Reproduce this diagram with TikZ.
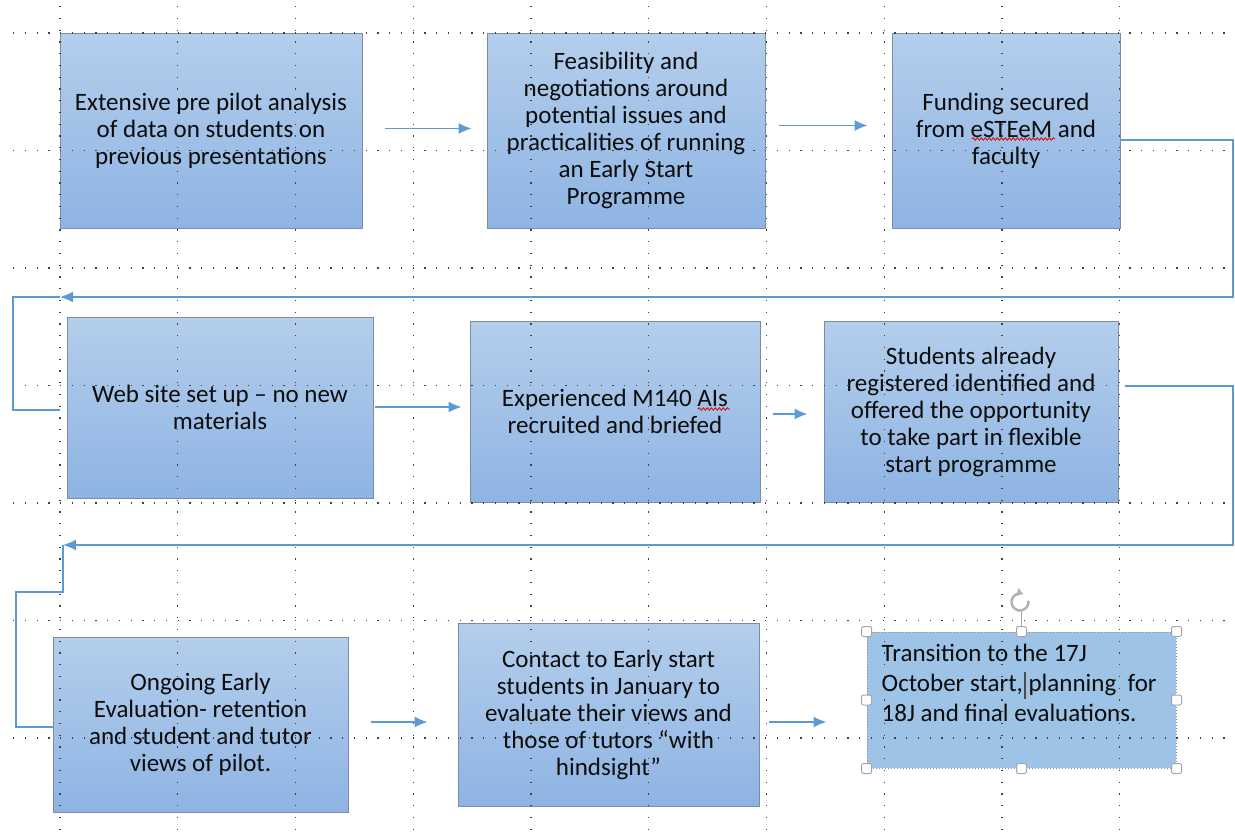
\documentclass[tikz,border=0pt]{standalone}
\usepackage{fontspec}
\setmainfont{Carlito}
\usetikzlibrary{arrows.meta,positioning,calc,decorations.pathmorphing}
\definecolor{boxtop}{HTML}{B4CEEC}
\definecolor{boxbot}{HTML}{8EB4E3}
\definecolor{boxline}{HTML}{7D8CA2}
\definecolor{flowblue}{HTML}{5B9BD5}
\definecolor{selfill}{HTML}{9DC3E6}
\tikzset{
  stage/.style={draw=boxline, line width=0.9pt, top color=boxtop, bottom color=boxbot,
    inner sep=0pt, align=center, text=black!95, font=\fontsize{25}{27}\selectfont},
  flow/.style={draw=flowblue, line width=1.5pt, -{Latex[length=13pt,width=11pt]}},
  flowline/.style={draw=flowblue, line width=1.5pt},
  guide/.style={black!75, line width=1.3pt, dash pattern=on 1.3pt off 10.45pt},
  grip/.style={draw=black!35, fill=white, line width=1pt, rounded corners=2pt,
    minimum size=10pt, inner sep=0pt},
  spell/.style={red!85!black, line width=0.8pt,
    decorate, decoration={snake, amplitude=1.2pt, segment length=4pt}}
}
\begin{document}
\begin{tikzpicture}[x=1pt,y=-1pt]
\useasboundingbox (0,0) rectangle (1235,831);

% first row
\node[stage, minimum width=302pt, minimum height=195pt] (extensive) at (211,130.5)
  {Extensive pre pilot analysis\\ of data on students on\\ previous presentations};
\node[stage, minimum width=278pt, minimum height=195pt] (feasibility) at (626,130.5)
  {Feasibility and\\ negotiations around\\ potential issues and\\ practicalities of running\\ an Early Start\\ Programme};
\node[stage, minimum width=228pt, minimum height=195pt] (funding) at (1006,130.5)
  {Funding secured\\ from eSTEeM and\\ faculty};

% second row
\node[stage, minimum width=306pt, minimum height=181pt] (website) at (220,407.5)
  {Web site set up -- no new\\ materials};
\node[stage, minimum width=290pt, minimum height=181pt] (tutors) at (615,411.5)
  {Experienced M140 AIs\\ recruited and briefed};
\node[stage, minimum width=294pt, minimum height=181pt] (registered) at (971,411.5)
  {Students already\\ registered identified and\\ offered the opportunity\\ to take part in flexible\\ start programme};

% third row
\node[stage, minimum width=295pt, minimum height=175pt] (ongoing) at (200.5,724.5)
  {Ongoing Early\\ Evaluation- retention\\ and student and tutor\\ views of pilot.};
\node[stage, minimum width=301pt, minimum height=183pt] (contact) at (608.5,714.5)
  {Contact to Early start\\ students in January to\\ evaluate their views and\\ those of tutors ``with\\ hindsight''};
\node[draw=black!45, dotted, line width=1pt, fill=selfill, minimum width=309pt,
  minimum height=136pt, inner sep=0pt] (transition) at (1021.5,700) {};
\node[anchor=north west, align=left, inner sep=0pt, text=black!95,
  font=\fontsize{25}{30}\selectfont] (transitiontext) at ([xshift=15pt,yshift=-12pt]transition.north west)
  {Transition to the 17J\\ October start, planning\ \ for\\ 18J and final evaluations.};

% dotted guides
\foreach \i in {0,...,9}
  \draw[guide] ({60+117.75*\i},6) -- ++(0,825);
\foreach \j in {0,...,6}
  \draw[guide] (13,{33+117.5*\j}) -- (1235,{33+117.5*\j});

% spelling marks and cursor
\draw[spell] (972,139) -- (1055,139);
\draw[spell] (698,409) -- (730,409);
\draw[black!70, line width=1.2pt] (1025,672) -- (1025,699);

% connectors
\coordinate (landA) at (60,297);
\coordinate (landB) at (63,545);
\draw[flow] ([xshift=23pt,yshift=2pt]extensive.east) -- ([xshift=-15pt,yshift=2pt]feasibility.west);
\draw[flow] ([xshift=14pt,yshift=5pt]feasibility.east) -- ([xshift=-24pt,yshift=5pt]funding.west);
\draw[flow] ([yshift=-9.5pt]funding.east) -| (1233,297) -- (landA);
\draw[flowline] (landA) -- (13,297) -- (13,410) -- ++(47,0);
\draw[flow] ([xshift=2pt,yshift=0.5pt]website.east) -- ([xshift=-8pt,yshift=4.5pt]tutors.west);
\draw[flow] ([xshift=13pt,yshift=-2.5pt]tutors.east) -- ([xshift=-16pt,yshift=-2.5pt]registered.west);
\draw[flow] ([xshift=7pt,yshift=25.5pt]registered.east) -| (1233,545) -- (landB);
\draw[flowline] (landB) -- (63,592) -- (16,592) -- (16,727) -- (ongoing.west |- 0,727);
\draw[flow] ([xshift=23pt,yshift=2.5pt]ongoing.east) -- ([xshift=-30pt,yshift=-7.5pt]contact.west);
\draw[flow] ([xshift=10pt,yshift=-7.5pt]contact.east) -- ([xshift=-40pt,yshift=-22pt]transition.west);

% selection handles
\draw[black!35, line width=1pt] (transition.north) -- ++(0,-20);
\draw[black!30, line width=2.5pt, -{Triangle[length=6pt,width=8pt]}]
  (1020,602) ++(350:8.5) arc[start angle=350, end angle=650, radius=8.5];
\foreach \hp in {north west,north,north east,west,east,south west,south,south east}
  \node[grip] at (transition.\hp) {};
\end{tikzpicture}
\end{document}
